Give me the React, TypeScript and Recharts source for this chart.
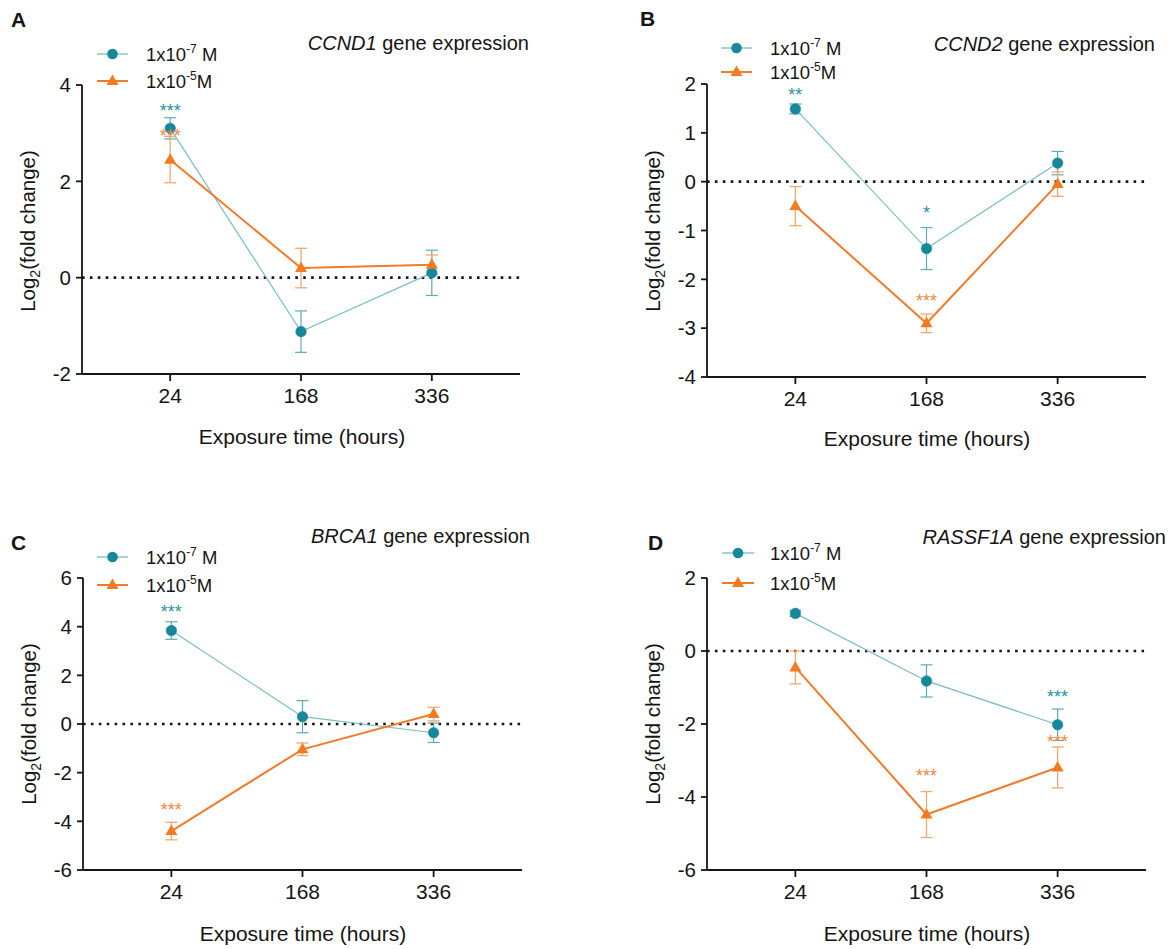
import React from 'react';
import { LineChart, Line, XAxis, YAxis, ReferenceLine, ErrorBar, LabelList } from 'recharts';

// Exposure time categories (hours)
const hours = ['24', '168', '336'];

// CCND1 — log2 fold change, mean and error
const ccnd1Low = [3.1, -1.12, 0.1];
const ccnd1LowErr = [0.22, 0.43, 0.47];
const ccnd1High = [2.45, 0.2, 0.27];
const ccnd1HighErr = [0.48, 0.41, 0.2];
const ccnd1LowSig = ['***', '', ''];
const ccnd1LowSigY = [3.54, null, null];
const ccnd1HighSig = ['***', '', ''];
const ccnd1HighSigY = [3.03, null, null];

// CCND2
const ccnd2Low = [1.49, -1.37, 0.38];
const ccnd2LowErr = [0.1, 0.43, 0.24];
const ccnd2High = [-0.5, -2.9, -0.05];
const ccnd2HighErr = [0.4, 0.19, 0.25];
const ccnd2LowSig = ['**', '*', ''];
const ccnd2LowSigY = [1.85, -0.56, null];
const ccnd2HighSig = ['', '***', ''];
const ccnd2HighSigY = [null, -2.37, null];

// BRCA1
const brca1Low = [3.84, 0.3, -0.36];
const brca1LowErr = [0.36, 0.66, 0.4];
const brca1High = [-4.4, -1.04, 0.41];
const brca1HighErr = [0.36, 0.26, 0.28];
const brca1LowSig = ['***', '', ''];
const brca1LowSigY = [4.76, null, null];
const brca1HighSig = ['***', '', ''];
const brca1HighSigY = [-3.37, null, null];

// RASSF1A
const rassf1aLow = [1.03, -0.82, -2.02];
const rassf1aLowErr = [0.08, 0.44, 0.43];
const rassf1aHigh = [-0.45, -4.48, -3.19];
const rassf1aHighErr = [0.45, 0.63, 0.56];
const rassf1aLowSig = ['', '', '***'];
const rassf1aLowSigY = [null, null, -1.14];
const rassf1aHighSig = ['', '***', '***'];
const rassf1aHighSigY = [null, -3.32, -2.39];

const FONT = "'Liberation Sans', Arial, Helvetica, sans-serif";
const TEAL = '#17889a';
const TEAL_LINE = '#7bbcc5';
const TEAL_ERR = '#5eaab6';
const ORANGE = '#f37a20';
const ORANGE_LINE = '#f07b2c';
const ORANGE_ERR = '#f2a870';
const INK = '#151515';

// space reserved for each axis inside the chart margins
const Y_AXIS_W = 40;
const X_AXIS_H = 40;

type Row = {
  idx: number;
  low: number;
  lowErr: number;
  high: number;
  highErr: number;
  lowSig: string;
  lowSigY: number | null;
  highSig: string;
  highSigY: number | null;
};

function buildRows(
  low: number[], lowErr: number[], high: number[], highErr: number[],
  lowSig: string[], lowSigY: (number | null)[], highSig: string[], highSigY: (number | null)[],
): Row[] {
  return hours.map((_, i) => ({
    idx: i + 1,
    low: low[i],
    lowErr: lowErr[i],
    high: high[i],
    highErr: highErr[i],
    lowSig: lowSig[i],
    lowSigY: lowSigY[i],
    highSig: highSig[i],
    highSigY: highSigY[i],
  }));
}

const rowsA = buildRows(ccnd1Low, ccnd1LowErr, ccnd1High, ccnd1HighErr, ccnd1LowSig, ccnd1LowSigY, ccnd1HighSig, ccnd1HighSigY);
const rowsB = buildRows(ccnd2Low, ccnd2LowErr, ccnd2High, ccnd2HighErr, ccnd2LowSig, ccnd2LowSigY, ccnd2HighSig, ccnd2HighSigY);
const rowsC = buildRows(brca1Low, brca1LowErr, brca1High, brca1HighErr, brca1LowSig, brca1LowSigY, brca1HighSig, brca1HighSigY);
const rowsD = buildRows(rassf1aLow, rassf1aLowErr, rassf1aHigh, rassf1aHighErr, rassf1aLowSig, rassf1aLowSigY, rassf1aHighSig, rassf1aHighSigY);

const TriangleDot = (props: any) => {
  const { cx, cy, index } = props;
  if (cx == null || cy == null) return <g key={`t-${index}`} />;
  return (
    <polygon
      key={`t-${index}`}
      points={`${cx},${cy - 6.5} ${cx - 6},${cy + 4} ${cx + 6},${cy + 4}`}
      fill={ORANGE}
    />
  );
};

const sigLabel = (color: string) => (props: any) => {
  const { x, y, value, index } = props;
  if (!value || y == null || Number.isNaN(y)) return null;
  return (
    <text key={`s-${index}`} x={x} y={y + 10} textAnchor="middle" fontSize={18} fill={color} fontFamily={FONT}>
      {value}
    </text>
  );
};

type PanelProps = {
  rows: Row[];
  left: number;
  top: number;
  width: number;
  height: number;
  plot: { top: number; right: number; bottom: number; left: number };
  yDomain: [number, number];
  yTicks: number[];
};

function Panel({ rows, left, top, width, height, plot, yDomain, yTicks }: PanelProps) {
  const margin = {
    top: plot.top,
    right: plot.right,
    bottom: plot.bottom - X_AXIS_H,
    left: plot.left - Y_AXIS_W,
  };
  return (
    <div style={{ position: 'absolute', left, top, width, height }}>
      <LineChart width={width} height={height} data={rows} margin={margin}>
        <XAxis
          type="number"
          dataKey="idx"
          domain={[0.326, 3.674]}
          ticks={[1, 2, 3]}
          tickFormatter={(v: number) => hours[v - 1]}
          height={X_AXIS_H}
          tickSize={7}
          tickMargin={7}
          stroke={INK}
          strokeWidth={1.8}
          tick={{ fontSize: 21, fill: INK, fontFamily: FONT }}
          tickLine={{ stroke: INK, strokeWidth: 1.8 }}
          axisLine={{ stroke: INK, strokeWidth: 1.8 }}
          allowDataOverflow
        />
        <YAxis
          type="number"
          domain={yDomain}
          ticks={yTicks}
          width={Y_AXIS_W}
          tickSize={6}
          tickMargin={5}
          stroke={INK}
          strokeWidth={1.8}
          tick={{ fontSize: 20.5, fill: INK, fontFamily: FONT }}
          tickLine={{ stroke: INK, strokeWidth: 1.8 }}
          axisLine={{ stroke: INK, strokeWidth: 1.8 }}
          allowDataOverflow
        />
        <ReferenceLine y={0} stroke={INK} strokeWidth={2.6} strokeDasharray="2.6 5.3" />
        <Line
          dataKey="low"
          stroke={TEAL_LINE}
          strokeWidth={1.2}
          dot={{ r: 5.3, fill: TEAL, stroke: TEAL, strokeWidth: 0.5 }}
          activeDot={false}
          isAnimationActive={false}
        >
          <ErrorBar dataKey="lowErr" width={6} stroke={TEAL_ERR} strokeWidth={1.2} direction="y" />
        </Line>
        <Line
          dataKey="high"
          stroke={ORANGE_LINE}
          strokeWidth={2}
          dot={TriangleDot}
          activeDot={false}
          isAnimationActive={false}
        >
          <ErrorBar dataKey="highErr" width={6} stroke={ORANGE_ERR} strokeWidth={1.3} direction="y" />
        </Line>
        <Line dataKey="lowSigY" stroke="none" dot={false} activeDot={false} isAnimationActive={false}>
          <LabelList dataKey="lowSig" content={sigLabel('#2b93a3')} />
        </Line>
        <Line dataKey="highSigY" stroke="none" dot={false} activeDot={false} isAnimationActive={false}>
          <LabelList dataKey="highSig" content={sigLabel('#f2873a')} />
        </Line>
      </LineChart>
    </div>
  );
}

function LegendBlock({ x0, x1, tx, y1, y2 }: { x0: number; x1: number; tx: number; y1: number; y2: number }) {
  const mid = (x0 + x1) / 2;
  return (
    <g fontFamily={FONT} fill={INK}>
      <line x1={x0} x2={x1} y1={y1} y2={y1} stroke={TEAL_LINE} strokeWidth={1.3} />
      <circle cx={mid} cy={y1} r={5.3} fill={TEAL} />
      <text x={tx} y={y1 + 7} fontSize={18.5}>
        1x10<tspan dy={-8} fontSize={12}>-7</tspan>
        <tspan dy={8}> M</tspan>
      </text>
      <line x1={x0} x2={x1} y1={y2} y2={y2} stroke={ORANGE_LINE} strokeWidth={2} />
      <polygon points={`${mid},${y2 - 6.5} ${mid - 6},${y2 + 4} ${mid + 6},${y2 + 4}`} fill={ORANGE} />
      <text x={tx} y={y2 + 7} fontSize={18.5}>
        1x10<tspan dy={-8} fontSize={12}>-5</tspan>
        <tspan dy={8}>M</tspan>
      </text>
    </g>
  );
}

function YTitle({ x, y }: { x: number; y: number }) {
  return (
    <text transform={`translate(${x},${y}) rotate(-90)`} textAnchor="middle" fontSize={20.5} fill={INK} fontFamily={FONT}>
      Log<tspan dy={5} fontSize={14}>2</tspan>
      <tspan dy={-5}>(fold change)</tspan>
    </text>
  );
}

function XTitle({ x, y }: { x: number; y: number }) {
  return (
    <text x={x} y={y} textAnchor="middle" fontSize={21} fill={INK} fontFamily={FONT}>
      Exposure time (hours)
    </text>
  );
}

function GeneTitle({ x, y, gene }: { x: number; y: number; gene: string }) {
  return (
    <text x={x} y={y} textAnchor="end" fontSize={20} fill={INK} fontFamily={FONT}>
      <tspan fontStyle="italic">{gene}</tspan> gene expression
    </text>
  );
}

function PanelLetter({ x, y, letter }: { x: number; y: number; letter: string }) {
  return (
    <text x={x} y={y} fontSize={21} fontWeight="bold" fill={INK} fontFamily={FONT}>
      {letter}
    </text>
  );
}

export default function App() {
  return (
    <div style={{ position: 'absolute', left: 0, top: 0, width: 1175, height: 949, background: '#fff', overflow: 'hidden' }}>
      <Panel
        rows={rowsA}
        left={0}
        top={0}
        width={587}
        height={470}
        plot={{ top: 85, right: 67, bottom: 96, left: 82 }}
        yDomain={[-2, 4]}
        yTicks={[-2, 0, 2, 4]}
      />
      <Panel
        rows={rowsB}
        left={587}
        top={0}
        width={588}
        height={470}
        plot={{ top: 84, right: 29, bottom: 93, left: 120 }}
        yDomain={[-4, 2]}
        yTicks={[-4, -3, -2, -1, 0, 1, 2]}
      />
      <Panel
        rows={rowsC}
        left={0}
        top={470}
        width={587}
        height={479}
        plot={{ top: 108, right: 65, bottom: 79, left: 83 }}
        yDomain={[-6, 6]}
        yTicks={[-6, -4, -2, 0, 2, 4, 6]}
      />
      <Panel
        rows={rowsD}
        left={587}
        top={470}
        width={588}
        height={479}
        plot={{ top: 108, right: 29, bottom: 79, left: 120 }}
        yDomain={[-6, 2]}
        yTicks={[-6, -4, -2, 0, 2]}
      />
      <svg
        width={1175}
        height={949}
        style={{ position: 'absolute', left: 0, top: 0, pointerEvents: 'none' }}
      >
        <PanelLetter x={11} y={27} letter="A" />
        <PanelLetter x={640} y={26} letter="B" />
        <PanelLetter x={11} y={550} letter="C" />
        <PanelLetter x={648} y={550} letter="D" />

        <GeneTitle x={529} y={50} gene="CCND1" />
        <GeneTitle x={1155} y={51} gene="CCND2" />
        <GeneTitle x={530} y={543} gene="BRCA1" />
        <GeneTitle x={1166} y={544} gene="RASSF1A" />

        <LegendBlock x0={97} x1={128} tx={146} y1={54} y2={81} />
        <LegendBlock x0={721} x1={752} tx={770} y1={48} y2={72} />
        <LegendBlock x0={97} x1={128} tx={146} y1={557} y2={585} />
        <LegendBlock x0={722} x1={754} tx={770} y1={553} y2={583} />

        <YTitle x={35} y={231} />
        <YTitle x={660} y={231} />
        <YTitle x={36} y={724} />
        <YTitle x={660} y={724} />

        <XTitle x={302} y={444} />
        <XTitle x={927} y={446} />
        <XTitle x={303} y={941} />
        <XTitle x={927} y={941} />
      </svg>
    </div>
  );
}
